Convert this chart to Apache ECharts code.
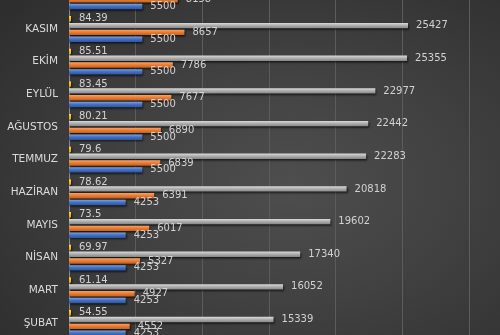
<!DOCTYPE html>
<html>
<head>
<meta charset="utf-8">
<script src="https://cdn.jsdelivr.net/npm/echarts@6/dist/echarts.min.js"></script>
<style>
html,body{margin:0;padding:0;width:500px;height:335px;overflow:hidden;}
body{position:relative;background:radial-gradient(ellipse 75% 80% at 58% 55%, #4e4e4e 0%, #414141 45%, #2e2e2e 100%);}
#c{position:absolute;left:0;top:-20.5px;width:500px;height:360px;}
</style>
</head>
<body>
<div id="c"></div>
<script>
// Categories bottom-to-top (top category partly cut off in the reference)
const categories = ['ŞUBAT','MART','NİSAN','MAYIS','HAZİRAN','TEMMUZ','AĞUSTOS','EYLÜL','EKİM','KASIM','ARALIK'];
const blueValues   = [4253, 4253, 4253, 4253, 4253, 5500, 5500, 5500, 5500, 5500, 5500];
const orangeValues = [4552, 4927, 5327, 6017, 6391, 6839, 6890, 7677, 7786, 8657, 8158];
const grayValues   = [15339, 16052, 17340, 19602, 20818, 22283, 22442, 22977, 25355, 25427, null];
const yellowValues = [54.55, 61.14, 69.97, 73.5, 78.62, 79.6, 80.21, 83.45, 85.51, 84.39, null];

function grad(top, mid, bot){
  return new echarts.graphic.LinearGradient(0,0,0,1,[
    {offset:0,color:top},{offset:0.45,color:mid},{offset:1,color:bot}]);
}
const labelStyle = {show:true, position:'right', distance:8, color:'#d2d2d2',
  fontFamily:'DejaVu Sans', fontSize:10};
const shadow = {shadowColor:'rgba(0,0,0,0.65)', shadowBlur:2, shadowOffsetX:1, shadowOffsetY:1.5};

function mk(name, data, colors, extra){
  return Object.assign({name, type:'bar', data, barWidth:5.4, barGap:'26%',
    itemStyle:Object.assign({color:grad(colors[0],colors[1],colors[2])}, shadow),
    label:labelStyle, animation:false}, extra || {});
}

const chart = echarts.init(document.getElementById('c'), null, {renderer:'canvas'});
chart.setOption({
  backgroundColor:'transparent',
  animation:false,
  grid:{left:69, right:31, top:0, bottom:0.7, containLabel:false},
  xAxis:{type:'value', min:0, max:30000, interval:5000,
    axisLabel:{show:false}, axisLine:{show:false}, axisTick:{show:false},
    splitLine:{lineStyle:{color:'#5c5c5c', width:1}}},
  yAxis:{type:'category', data:categories,
    axisTick:{show:false},
    axisLine:{lineStyle:{color:'#8a8a8a', width:1}},
    axisLabel:{color:'#dadada', fontFamily:'DejaVu Sans', fontSize:10.5, margin:11}},
  series:[
    mk('Yellow', yellowValues, ['#ffd966','#ffc000','#e0a800'], {barMinHeight:2}),
    mk('Gray', grayValues, ['#dcdcdc','#b0b0b0','#858585']),
    mk('Orange', orangeValues, ['#f6a46b','#ed7d31','#c0611f']),
    mk('Blue', blueValues, ['#7ea2e3','#4472c4','#2f559b'])
  ]
});
</script>
</body>
</html>
